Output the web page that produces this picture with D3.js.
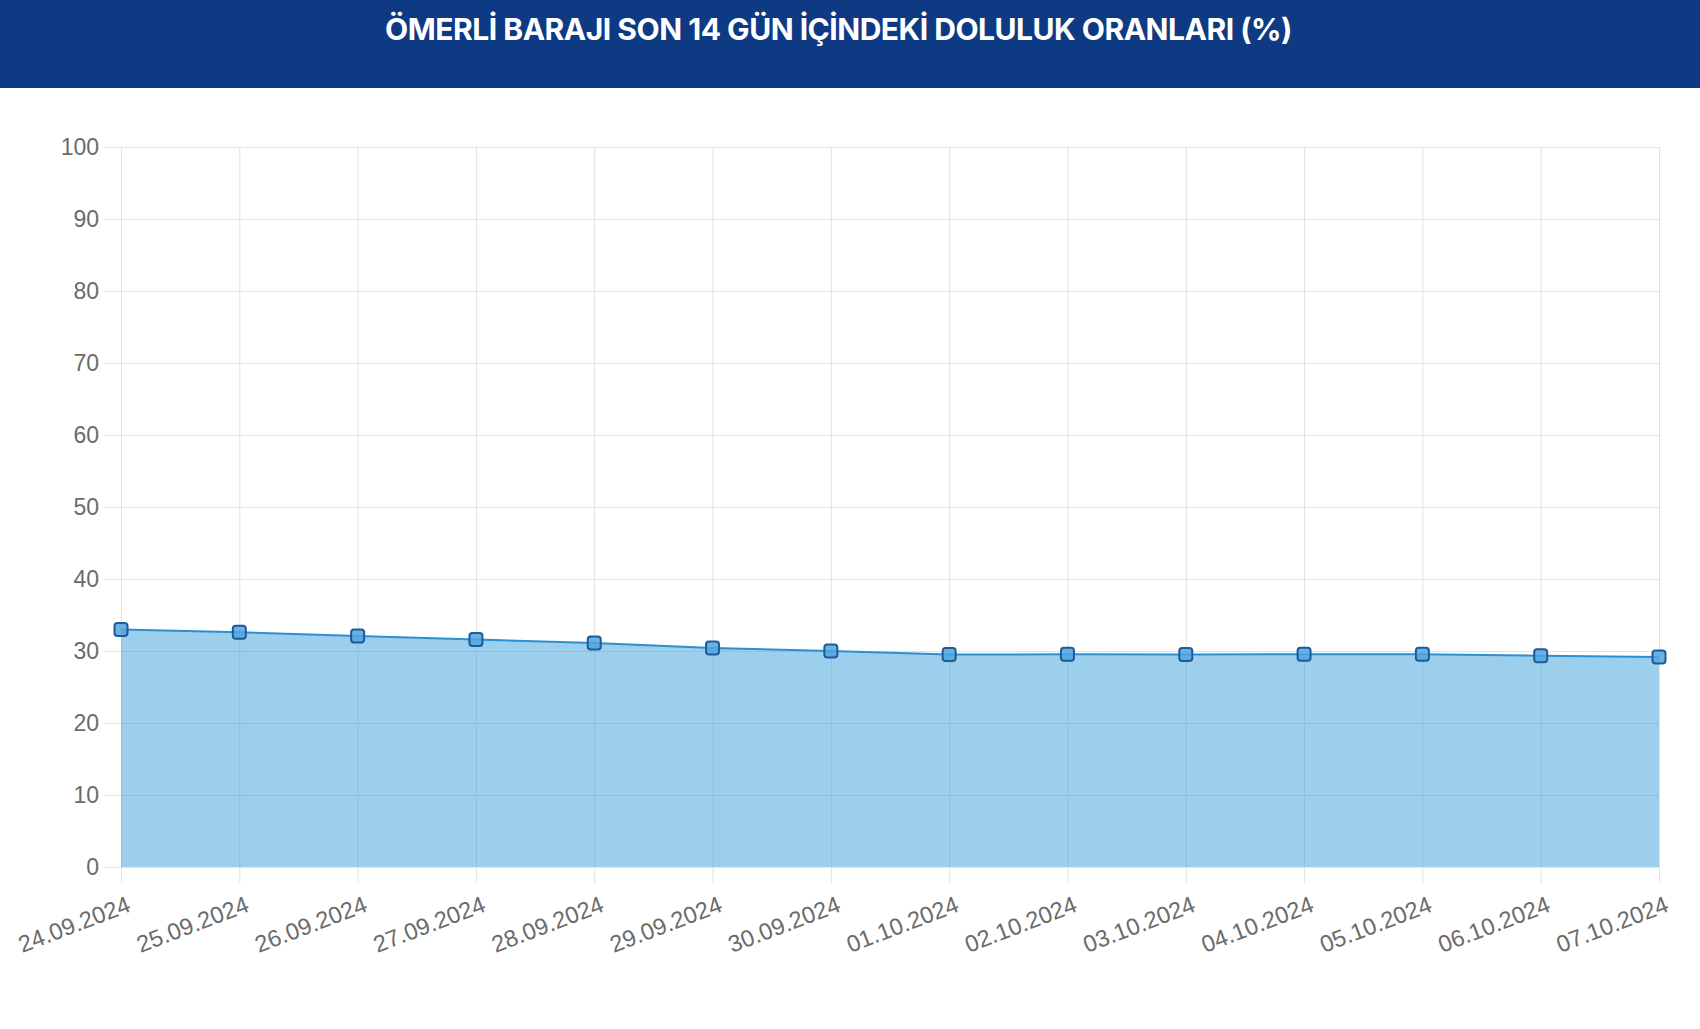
<!DOCTYPE html>
<html><head><meta charset="utf-8">
<script src="https://cdn.jsdelivr.net/npm/d3@7"></script>
<style>
html,body{margin:0;padding:0;background:#fff;}
svg{display:block;}
</style></head>
<body>
<svg id="chart" width="1700" height="1029"></svg>
<script>
const titleText = "ÖMERLİ BARAJI SON 14 GÜN İÇİNDEKİ DOLULUK ORANLARI (%)";
const dates = ["24.09.2024","25.09.2024","26.09.2024","27.09.2024","28.09.2024","29.09.2024","30.09.2024","01.10.2024","02.10.2024","03.10.2024","04.10.2024","05.10.2024","06.10.2024","07.10.2024"];
const values = [33.0,32.6,32.1,31.6,31.1,30.4,30.0,29.5,29.55,29.5,29.55,29.55,29.35,29.15];
const yTicks = [0,10,20,30,40,50,60,70,80,90,100];

const svg = d3.select("#chart");
const W = 1700, H = 1029;
const headerH = 88;
const m = {left:121, right:1659, top:147, bottom:867};

// header
svg.append("rect").attr("x",0).attr("y",0).attr("width",W).attr("height",headerH).attr("fill","#0e3a84");
const title = svg.append("text").attr("x",(387+1290)/2).attr("y",40)
  .attr("text-anchor","middle").attr("fill","#fff")
  .attr("font-family","Inter, 'Open Sans', sans-serif").attr("font-weight",700)
  .attr("font-size",26).attr("letter-spacing","-0.5px").text(titleText);
const tl = title.node().getComputedTextLength();
title.attr("font-size", 26*903/tl);

const x = d3.scalePoint().domain(dates).range([m.left, m.right]);
const y = d3.scaleLinear().domain([0,100]).range([m.bottom, m.top]);

const g = svg.append("g");
// horizontal grid
g.selectAll(".hg").data(yTicks).join("line")
  .attr("x1", m.left-16).attr("x2", m.right)
  .attr("y1", d=>y(d)+0.5).attr("y2", d=>y(d)+0.5)
  .attr("stroke","#e2e2e2").attr("stroke-width",1);
// vertical grid
g.selectAll(".vg").data(dates).join("line")
  .attr("x1", d=>x(d)+0.5).attr("x2", d=>x(d)+0.5)
  .attr("y1", m.top).attr("y2", m.bottom+16)
  .attr("stroke","#e2e2e2").attr("stroke-width",1);

// y labels
g.selectAll(".yl").data(yTicks).join("text")
  .attr("x", m.left-22).attr("y", d=>y(d)).attr("dy","0.36em")
  .attr("text-anchor","end").attr("fill","#6b6b6b")
  .attr("font-family","Liberation Sans, Arial, sans-serif").attr("font-size",23)
  .text(d=>d);

// x labels
g.selectAll(".xl").data(dates).join("text")
  .attr("transform", d=>`translate(${x(d)+5},${m.bottom+28}) rotate(-21)`)
  .attr("dy","0.72em")
  .attr("text-anchor","end").attr("fill","#6b6b6b")
  .attr("font-family","Liberation Sans, Arial, sans-serif").attr("font-size",23.5)
  .text(d=>d);

const data = dates.map((d,i)=>({d, v:values[i]}));
// area
const area = d3.area().x(d=>x(d.d)).y0(y(0)).y1(d=>y(d.v));
g.append("path").datum(data).attr("d",area)
  .attr("fill","rgba(55,159,215,0.5)");
// line
const line = d3.line().x(d=>x(d.d)).y(d=>y(d.v));
g.append("path").datum(data).attr("d",line)
  .attr("fill","none").attr("stroke","#2d8fd2").attr("stroke-width",2);
// points
const ps = 13;
g.selectAll(".pt").data(data).join("rect")
  .attr("x", d=>x(d.d)-ps/2).attr("y", d=>y(d.v)-ps/2)
  .attr("width",ps).attr("height",ps).attr("rx",3).attr("ry",3)
  .attr("fill","rgba(80,165,225,0.85)").attr("stroke","#1d5b98").attr("stroke-width",2);
</script>
</body></html>
